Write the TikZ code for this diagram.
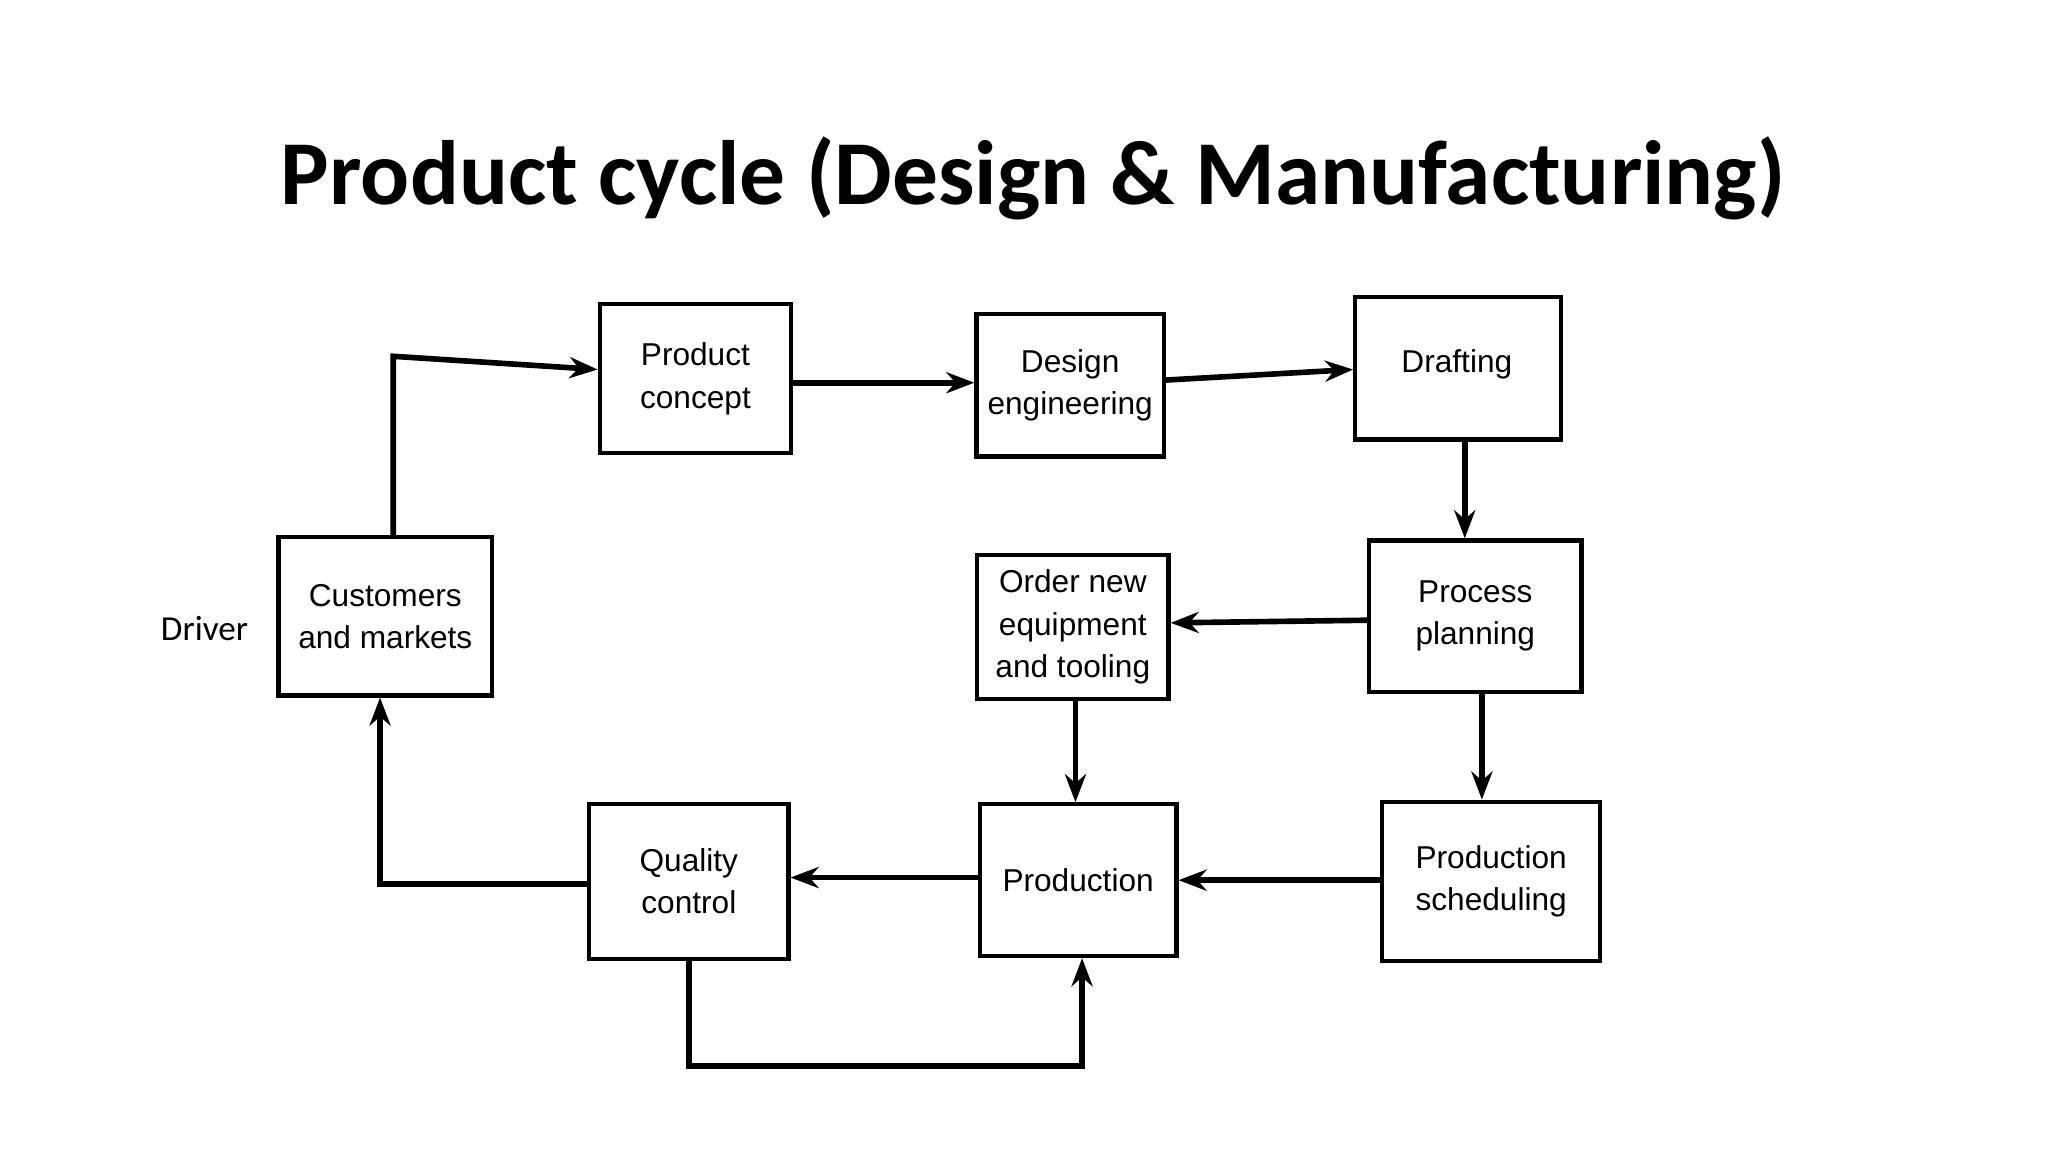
\documentclass[tikz,border=0pt]{standalone}
\usepackage{fontspec}
\setmainfont{Liberation Sans}
\newfontfamily\titlefont{Carlito}
\usetikzlibrary{arrows.meta}
\begin{document}
\begin{tikzpicture}[x=0.0132cm,y=-0.0132cm,
  box/.style={draw,line width=1.2pt,inner sep=0pt,align=center,font=\fontsize{9}{12}\selectfont},
  arr/.style={line width=1.6pt,-{Stealth[length=8pt,width=6pt]}}]
\useasboundingbox (0,0) rectangle (1552,873);
\node[font=\titlefont\bfseries\fontsize{26}{30}\selectfont] (title) at (783,135) {Product cycle (Design \& Manufacturing)};
\node[font=\titlefont\fontsize{10}{12}\selectfont] (drv) at (155,476) {Driver};
\newcommand{\bx}[6]{\node[box,minimum width=#4*0.0132cm,minimum height=#5*0.0132cm] (#1) at (#2,#3) {#6};}
\bx{pc}{527}{287}{145}{113}{Product\\concept}
\bx{de}{811}{292}{142}{108}{Design\\engineering}
\bx{cm}{292}{467}{162}{120}{Customers\\and markets}
\bx{on}{813}{475}{145}{109}{Order new\\equipment\\and tooling}
\bx{pp}{1118}{467}{161}{115}{Process\\planning}
\bx{qc}{522}{668}{151}{117}{Quality\\control}
\bx{pr}{817}{667}{149}{115}{Production}
\bx{ps}{1130}{668}{165}{121}{Production\\scheduling}
\node[box,minimum width=156*0.0132cm,minimum height=108*0.0132cm] (dr) at (1105,279) {};
\node[font=\fontsize{9}{12}\selectfont] (drt) at (1104,276) {Drafting};
\coordinate (c1) at (298,270);
\coordinate (c2) at (288,670);
\coordinate (c3) at (522,808);
\coordinate (c4) at (820,808);
\coordinate (v1) at (1110,0);
\coordinate (v2) at (1123,0);
\coordinate (v3) at (815,0);
\draw[arr] (cm.north -| c1) -- (c1) -- (pc.west |- 0,280);
\draw[arr] (pc.east |- 0,290) -- (de.west |- 0,290);
\draw[arr] (de.east |- 0,288) -- (dr.west |- 0,280);
\draw[arr] (dr.south -| v1) -- (pp.north -| v1);
\draw[arr] (pp.west |- 0,470) -- (on.east |- 0,472);
\draw[arr] (pp.south -| v2) -- (ps.north -| v2);
\draw[arr] (on.south -| v3) -- (pr.north -| v3);
\draw[arr] (ps.west |- 0,667) -- (pr.east |- 0,667);
\draw[arr] (pr.west |- 0,665) -- (qc.east |- 0,665);
\draw[arr] (qc.west |- c2) -- (c2) -- (cm.south -| c2);
\draw[arr] (qc.south) -- (c3) -- (c4) -- (pr.south -| c4);
\end{tikzpicture}
\end{document}
